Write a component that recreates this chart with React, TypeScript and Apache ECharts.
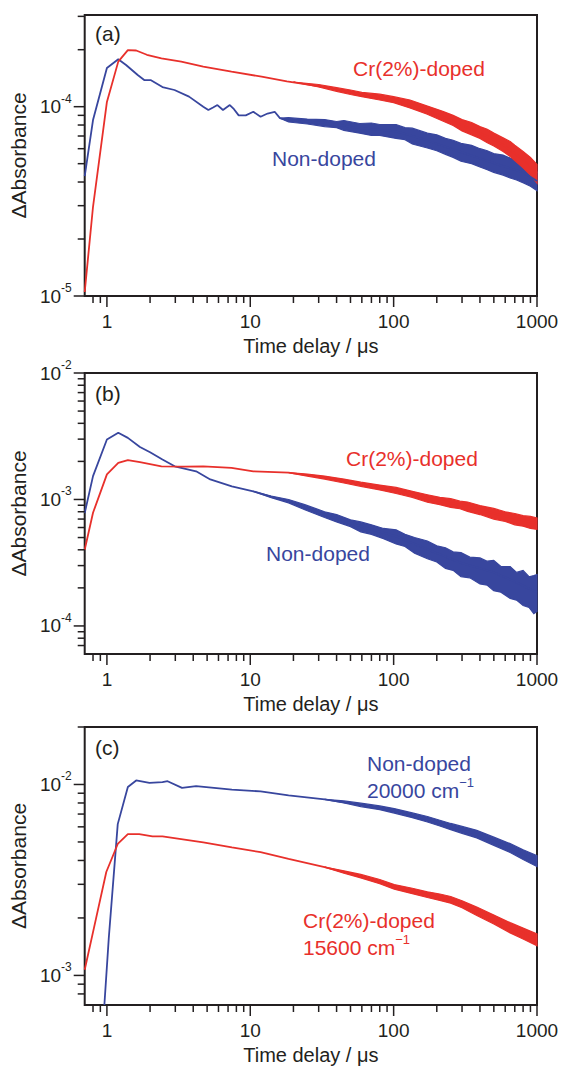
import React, { useEffect, useRef } from 'react';
import * as echarts from 'echarts';

const RED = '#e8302b';
const BLUE = '#38469e';
const INK = '#231f20';
const FONT = '"Liberation Sans", Arial, Helvetica, sans-serif';

// ---------- shared x axis ----------
const X_RANGE = [0.7, 1000];
const xMajorTicks = [1, 10, 100, 1000];
const xMinorTicks = [0.8, 0.9, 2, 3, 4, 5, 6, 7, 8, 9, 20, 30, 40, 50, 60, 70, 80, 90, 200, 300, 400, 500, 600, 700, 800, 900];

// ---------- panel (a) ----------
const aYRange = [1e-5, 3.05e-4];
const aYMajor = [1e-5, 1e-4];
const aYMinor = [2e-5, 3e-5, 4e-5, 5e-5, 6e-5, 7e-5, 8e-5, 9e-5, 2e-4, 3e-4];

const aRedT = [0.7, 0.8, 1.0, 1.2, 1.4, 1.6, 1.9, 2.4, 3.3, 4.7, 7.4, 12, 18, 33, 60, 100, 170, 300, 500, 580, 800, 1000];
const aRedV = [1.05e-5, 2.96e-5, 1.06e-4, 1.73e-4, 1.99e-4, 1.98e-4, 1.88e-4, 1.8e-4, 1.73e-4, 1.63e-4, 1.53e-4, 1.44e-4, 1.36e-4, 1.27e-4, 1.16e-4, 1.09e-4, 9.6e-5, 8.0e-5, 6.7e-5, 6.3e-5, 5.25e-5, 4.45e-5];
const aRedBandT = [20, 30, 40, 50, 60, 80, 100, 130, 170, 220, 260, 300, 350, 400, 450, 500, 580, 650, 700, 800, 900, 1000];
const aRedBandHi = [1.35e-4, 1.31e-4, 1.26e-4, 1.225e-4, 1.19e-4, 1.165e-4, 1.13e-4, 1.085e-4, 1.01e-4, 9.45e-5, 9.0e-5, 8.55e-5, 8.25e-5, 7.85e-5, 7.6e-5, 7.25e-5, 6.85e-5, 6.55e-5, 6.25e-5, 5.8e-5, 5.4e-5, 4.95e-5];
const aRedBandLo = [1.35e-4, 1.27e-4, 1.205e-4, 1.16e-4, 1.13e-4, 1.085e-4, 1.05e-4, 9.85e-5, 9.15e-5, 8.4e-5, 7.95e-5, 7.45e-5, 7.1e-5, 6.8e-5, 6.45e-5, 6.2e-5, 5.8e-5, 5.45e-5, 5.2e-5, 4.75e-5, 4.35e-5, 3.95e-5];

const aBlueT = [0.7, 0.8, 1.0, 1.2, 1.36, 1.64, 1.83, 2.03, 2.44, 2.96, 3.74, 4.7, 5.1, 5.5, 5.9, 6.45, 7.2, 7.7, 8.3, 9.3, 10.5, 11.8, 13.2, 14.8, 16.1, 18.5, 33, 58, 104, 172, 295, 499, 805, 1000];
const aBlueV = [4.3e-5, 8.5e-5, 1.6e-4, 1.78e-4, 1.66e-4, 1.47e-4, 1.38e-4, 1.38e-4, 1.27e-4, 1.225e-4, 1.13e-4, 1.0e-4, 9.6e-5, 9.9e-5, 1.02e-4, 9.6e-5, 1.02e-4, 9.7e-5, 9.0e-5, 9.0e-5, 9.4e-5, 8.85e-5, 9.2e-5, 9.4e-5, 8.7e-5, 8.5e-5, 8.2e-5, 7.7e-5, 7.4e-5, 6.63e-5, 5.75e-5, 5.04e-5, 4.49e-5, 4.05e-5];
const aBlueBandT = [16.1, 18.5, 25, 33, 40, 45, 58, 70, 80, 104, 120, 135, 172, 200, 230, 260, 295, 350, 400, 450, 499, 580, 650, 720, 805, 900, 1000];
const aBlueBandHi = [8.7e-5, 8.75e-5, 8.6e-5, 8.55e-5, 8.35e-5, 8.45e-5, 8.15e-5, 8.2e-5, 8.05e-5, 8.05e-5, 7.75e-5, 7.7e-5, 7.25e-5, 7.1e-5, 6.8e-5, 6.65e-5, 6.4e-5, 6.25e-5, 6.0e-5, 5.85e-5, 5.65e-5, 5.55e-5, 5.35e-5, 5.2e-5, 5.05e-5, 4.85e-5, 4.55e-5];
const aBlueBandLo = [8.7e-5, 8.3e-5, 8.1e-5, 7.85e-5, 7.75e-5, 7.5e-5, 7.25e-5, 7.05e-5, 7.05e-5, 6.8e-5, 6.7e-5, 6.35e-5, 6.05e-5, 5.85e-5, 5.6e-5, 5.4e-5, 5.15e-5, 5.0e-5, 4.8e-5, 4.65e-5, 4.5e-5, 4.35e-5, 4.2e-5, 4.1e-5, 3.95e-5, 3.8e-5, 3.6e-5];

// ---------- panel (b) ----------
const bYRange = [6e-5, 1e-2];
const bYMajor = [1e-4, 1e-3, 1e-2];
const bYMinor = [7e-5, 8e-5, 9e-5, 2e-4, 3e-4, 4e-4, 5e-4, 6e-4, 7e-4, 8e-4, 9e-4, 2e-3, 3e-3, 4e-3, 5e-3, 6e-3, 7e-3, 8e-3, 9e-3];

const bRedT = [0.7, 0.8, 1.0, 1.2, 1.4, 1.7, 2.4, 3.5, 4.7, 7.4, 10.5, 18.5, 33, 59, 104, 172, 328, 499, 1000];
const bRedV = [4.0e-4, 7.85e-4, 1.58e-3, 1.95e-3, 2.05e-3, 1.97e-3, 1.83e-3, 1.82e-3, 1.83e-3, 1.78e-3, 1.67e-3, 1.63e-3, 1.49e-3, 1.32e-3, 1.18e-3, 1.02e-3, 8.8e-4, 7.75e-4, 6.45e-4];
const bRedBandT = [18.5, 25, 33, 45, 59, 80, 104, 135, 172, 210, 250, 290, 328, 400, 499, 600, 700, 800, 900, 1000];
const bRedBandHi = [1.63e-3, 1.59e-3, 1.53e-3, 1.45e-3, 1.37e-3, 1.3e-3, 1.245e-3, 1.16e-3, 1.09e-3, 1.04e-3, 1.015e-3, 9.7e-4, 9.55e-4, 8.95e-4, 8.5e-4, 8.0e-4, 7.75e-4, 7.45e-4, 7.35e-4, 7.15e-4];
const bRedBandLo = [1.63e-3, 1.53e-3, 1.45e-3, 1.35e-3, 1.27e-3, 1.19e-3, 1.115e-3, 1.04e-3, 9.5e-4, 9.1e-4, 8.65e-4, 8.45e-4, 8.05e-4, 7.6e-4, 7.0e-4, 6.7e-4, 6.3e-4, 6.15e-4, 5.9e-4, 5.8e-4];

const bBlueT = [0.7, 0.8, 1.0, 1.2, 1.4, 1.7, 2.0, 2.44, 2.97, 4.19, 5.26, 7.44, 10.5, 14.8, 18.5, 24.7, 33, 59, 104, 172, 295, 499, 650, 1000];
const bBlueV = [7.8e-4, 1.53e-3, 2.98e-3, 3.37e-3, 3.07e-3, 2.6e-3, 2.36e-3, 2.07e-3, 1.83e-3, 1.67e-3, 1.44e-3, 1.27e-3, 1.16e-3, 1.03e-3, 9.7e-4, 8.6e-4, 7.6e-4, 6.12e-4, 5.1e-4, 4.03e-4, 3.15e-4, 2.65e-4, 2.33e-4, 1.84e-4];
const bBlueBandT = [10.5, 14, 18.5, 24, 33, 40, 50, 59, 70, 85, 104, 120, 140, 172, 200, 230, 260, 295, 340, 400, 450, 499, 560, 650, 720, 800, 880, 950, 1000];
const bBlueBandHi = [1.16e-3, 1.065e-3, 1.0e-3, 9.1e-4, 8.0e-4, 7.6e-4, 6.9e-4, 6.65e-4, 6.3e-4, 5.9e-4, 5.75e-4, 5.3e-4, 5.0e-4, 4.7e-4, 4.3e-4, 4.15e-4, 3.85e-4, 3.8e-4, 3.5e-4, 3.45e-4, 3.25e-4, 3.3e-4, 2.95e-4, 2.95e-4, 2.65e-4, 2.75e-4, 2.45e-4, 2.5e-4, 2.55e-4];
const bBlueBandLo = [1.16e-3, 1.035e-3, 9.4e-4, 8.3e-4, 7.2e-4, 6.65e-4, 6.1e-4, 5.55e-4, 5.3e-4, 4.9e-4, 4.45e-4, 4.25e-4, 3.75e-4, 3.4e-4, 3.2e-4, 2.85e-4, 2.75e-4, 2.45e-4, 2.4e-4, 2.15e-4, 2.1e-4, 1.9e-4, 1.85e-4, 1.65e-4, 1.6e-4, 1.45e-4, 1.4e-4, 1.25e-4, 1.3e-4];

// ---------- panel (c) ----------
const cYRange = [7e-4, 2e-2];
const cYMajor = [1e-3, 1e-2];
const cYMinor = [8e-4, 9e-4, 2e-3, 3e-3, 4e-3, 5e-3, 6e-3, 7e-3, 8e-3, 9e-3, 2e-2];

const cRedT = [0.7, 0.84, 0.99, 1.19, 1.4, 1.68, 2.08, 2.44, 4.7, 7.44, 11.8, 18.5, 33, 59, 101, 172, 250, 380, 650, 1000];
const cRedV = [1.07e-3, 1.99e-3, 3.48e-3, 4.88e-3, 5.5e-3, 5.5e-3, 5.35e-3, 5.35e-3, 4.98e-3, 4.69e-3, 4.42e-3, 4.08e-3, 3.69e-3, 3.31e-3, 2.91e-3, 2.65e-3, 2.49e-3, 2.17e-3, 1.78e-3, 1.54e-3];
const cRedBandT = [33, 45, 59, 80, 101, 135, 172, 210, 250, 300, 380, 500, 650, 800, 1000];
const cRedBandHi = [3.69e-3, 3.53e-3, 3.38e-3, 3.18e-3, 2.99e-3, 2.86e-3, 2.74e-3, 2.67e-3, 2.59e-3, 2.46e-3, 2.28e-3, 2.07e-3, 1.89e-3, 1.77e-3, 1.65e-3];
const cRedBandLo = [3.69e-3, 3.43e-3, 3.24e-3, 3.02e-3, 2.83e-3, 2.68e-3, 2.56e-3, 2.47e-3, 2.39e-3, 2.26e-3, 2.06e-3, 1.86e-3, 1.67e-3, 1.55e-3, 1.43e-3];

const cBlueT = [0.96, 1.03, 1.19, 1.4, 1.6, 1.98, 2.44, 2.65, 3.34, 4.19, 7.44, 11.8, 18.5, 33, 59, 101, 172, 250, 380, 650, 1000];
const cBlueV = [7.0e-4, 1.56e-3, 6.2e-3, 9.7e-3, 1.05e-2, 1.02e-2, 1.03e-2, 1.04e-2, 9.6e-3, 9.8e-3, 9.4e-3, 9.2e-3, 8.77e-3, 8.36e-3, 7.82e-3, 7.28e-3, 6.58e-3, 6.02e-3, 5.5e-3, 4.65e-3, 3.98e-3];
const cBlueBandT = [33, 45, 59, 80, 101, 135, 172, 210, 250, 300, 380, 500, 650, 800, 1000];
const cBlueBandHi = [8.36e-3, 8.2e-3, 7.98e-3, 7.72e-3, 7.48e-3, 7.1e-3, 6.8e-3, 6.5e-3, 6.25e-3, 6.03e-3, 5.75e-3, 5.3e-3, 4.9e-3, 4.55e-3, 4.24e-3];
const cBlueBandLo = [8.36e-3, 8.0e-3, 7.66e-3, 7.38e-3, 7.08e-3, 6.7e-3, 6.36e-3, 6.06e-3, 5.8e-3, 5.55e-3, 5.25e-3, 4.8e-3, 4.4e-3, 4.05e-3, 3.72e-3];

// ---------- texts ----------
const X_TITLE = 'Time delay / μs';
const Y_TITLE = 'ΔAbsorbance';
const LABEL_DOPED = 'Cr(2%)-doped';
const LABEL_NON = 'Non-doped';

const isDecade = (v: number) => {
  const l = Math.log10(v);
  return Math.abs(l - Math.round(l)) < 1e-6;
};

const lineSeries = (gi: number, T: number[], V: number[], color: string) => ({
  type: 'line',
  xAxisIndex: gi,
  yAxisIndex: gi,
  data: T.map((t, i) => [t, V[i]]),
  showSymbol: false,
  symbol: 'none',
  clip: true,
  silent: true,
  lineStyle: { color, width: 1.8 },
  itemStyle: { color },
  z: 3,
});

const bandSeries = (gi: number, T: number[], lo: number[], hi: number[], color: string) => ({
  type: 'custom',
  coordinateSystem: 'cartesian2d',
  xAxisIndex: gi,
  yAxisIndex: gi,
  data: T.map((t, i) => [t, lo[i], hi[i]]),
  encode: { x: 0, y: [1, 2] },
  silent: true,
  z: 3,
  renderItem: (params: any, api: any) => {
    if (params.dataIndex !== 0) return null;
    const up = T.map((t, i) => api.coord([t, hi[i]]));
    const dn = T.map((t, i) => api.coord([t, lo[i]])).reverse();
    return {
      type: 'polygon',
      shape: { points: up.concat(dn) },
      style: { fill: color, stroke: color, lineWidth: 1.2, lineJoin: 'miter' },
    };
  },
});

const tickSeries = (gi: number, yMaj: number[], yMin: number[], yRange: number[]) => {
  const items: number[][] = [];
  const kinds: number[] = [];
  xMajorTicks.forEach((v) => { items.push([v, yRange[0]]); kinds.push(0); });
  xMinorTicks.forEach((v) => { items.push([v, yRange[0]]); kinds.push(1); });
  yMaj.forEach((v) => { items.push([X_RANGE[0], v]); kinds.push(2); });
  yMin.forEach((v) => { items.push([X_RANGE[0], v]); kinds.push(3); });
  return {
    type: 'custom',
    coordinateSystem: 'cartesian2d',
    xAxisIndex: gi,
    yAxisIndex: gi,
    data: items,
    encode: { x: 0, y: 1 },
    clip: false,
    silent: true,
    z: 5,
    renderItem: (params: any, api: any) => {
      const k = kinds[params.dataIndex];
      const p = api.coord([api.value(0), api.value(1)]);
      const cs = params.coordSys;
      if (k < 2) {
        const y0 = cs.y + cs.height;
        const len = k === 0 ? 11 : 7;
        return { type: 'line', shape: { x1: p[0], y1: y0, x2: p[0], y2: y0 + len }, style: { stroke: INK, lineWidth: 1.5 } };
      }
      const x0 = cs.x;
      const len = k === 2 ? 11 : 7;
      return { type: 'line', shape: { x1: x0, y1: p[1], x2: x0 - len, y2: p[1] }, style: { stroke: INK, lineWidth: 1.5 } };
    },
  };
};

const xAxisDef = (gi: number) => ({
  type: 'log',
  gridIndex: gi,
  logBase: 10,
  min: X_RANGE[0],
  max: X_RANGE[1],
  name: X_TITLE,
  nameLocation: 'middle',
  nameGap: 40,
  nameTextStyle: { fontSize: 20, color: INK, fontFamily: FONT },
  axisLine: { show: false },
  axisTick: { show: false },
  splitLine: { show: false },
  axisLabel: {
    fontSize: 19,
    color: INK,
    fontFamily: FONT,
    margin: 16,
    formatter: (v: number) => (isDecade(v) ? String(Math.round(v)) : ''),
  },
});

const yAxisDef = (gi: number, range: number[]) => ({
  type: 'log',
  gridIndex: gi,
  logBase: 10,
  min: range[0],
  max: range[1],
  name: Y_TITLE,
  nameLocation: 'middle',
  nameGap: 50,
  nameTextStyle: { fontSize: 21, color: INK, fontFamily: FONT },
  axisLine: { show: false },
  axisTick: { show: false },
  splitLine: { show: false },
  axisLabel: {
    margin: 13,
    color: INK,
    fontFamily: FONT,
    formatter: (v: number) => (isDecade(v) ? `{b|10}{s|${Math.round(Math.log10(v))}}` : ''),
    rich: {
      b: { fontSize: 19, lineHeight: 28, color: INK, fontFamily: FONT },
      s: { fontSize: 12, lineHeight: 14, verticalAlign: 'top', color: INK, fontFamily: FONT },
    },
  },
});

const txt = (x: number, y: number, text: string, color: string, size = 21) => ({
  type: 'text',
  x,
  y,
  silent: true,
  style: { text, fill: color, font: `${size}px ${FONT}`, align: 'left', verticalAlign: 'middle' },
});

const supTxt = (x: number, y: number, base: string, sup: string, color: string) => ({
  type: 'text',
  x,
  y,
  silent: true,
  style: {
    text: `{n|${base}}{s|${sup}}`,
    fill: color,
    align: 'left',
    verticalAlign: 'middle',
    rich: {
      n: { fontSize: 21, lineHeight: 28, fontFamily: FONT, fill: color },
      s: { fontSize: 13, lineHeight: 15, verticalAlign: 'top', fontFamily: FONT, fill: color },
    },
  },
});

export default function App() {
  const ref = useRef<HTMLDivElement>(null);
  useEffect(() => {
    document.body.style.margin = '0';
    if (!ref.current) return;
    const chart = echarts.init(ref.current, undefined, { renderer: 'svg' });
    const gridBase = { left: 82, width: 455, show: true, borderColor: INK, borderWidth: 2, backgroundColor: 'transparent' };
    chart.setOption({
      animation: false,
      textStyle: { fontFamily: FONT },
      grid: [
        { ...gridBase, top: 15, height: 281 },
        { ...gridBase, top: 373, height: 281 },
        { ...gridBase, top: 727, height: 280 },
      ],
      xAxis: [xAxisDef(0), xAxisDef(1), xAxisDef(2)],
      yAxis: [yAxisDef(0, aYRange), yAxisDef(1, bYRange), yAxisDef(2, cYRange)],
      series: [
        bandSeries(0, aBlueBandT, aBlueBandLo, aBlueBandHi, BLUE),
        lineSeries(0, aBlueT, aBlueV, BLUE),
        bandSeries(0, aRedBandT, aRedBandLo, aRedBandHi, RED),
        lineSeries(0, aRedT, aRedV, RED),
        tickSeries(0, aYMajor, aYMinor, aYRange),

        bandSeries(1, bBlueBandT, bBlueBandLo, bBlueBandHi, BLUE),
        lineSeries(1, bBlueT, bBlueV, BLUE),
        bandSeries(1, bRedBandT, bRedBandLo, bRedBandHi, RED),
        lineSeries(1, bRedT, bRedV, RED),
        tickSeries(1, bYMajor, bYMinor, bYRange),

        bandSeries(2, cBlueBandT, cBlueBandLo, cBlueBandHi, BLUE),
        lineSeries(2, cBlueT, cBlueV, BLUE),
        bandSeries(2, cRedBandT, cRedBandLo, cRedBandHi, RED),
        lineSeries(2, cRedT, cRedV, RED),
        tickSeries(2, cYMajor, cYMinor, cYRange),
      ],
      graphic: [
        txt(95, 33, '(a)', INK),
        txt(353, 68, LABEL_DOPED, RED),
        txt(272, 158, LABEL_NON, BLUE),
        txt(95, 393, '(b)', INK),
        txt(346, 458, LABEL_DOPED, RED),
        txt(266, 553, LABEL_NON, BLUE),
        txt(95, 747, '(c)', INK),
        txt(367, 763, LABEL_NON, BLUE),
        supTxt(367, 790, '20000 cm', '−1', BLUE),
        txt(303, 920, LABEL_DOPED, RED),
        supTxt(303, 947, '15600 cm', '−1', RED),
      ],
    });
    return () => chart.dispose();
  }, []);
  return <div ref={ref} style={{ width: 564, height: 1066 }} />;
}
